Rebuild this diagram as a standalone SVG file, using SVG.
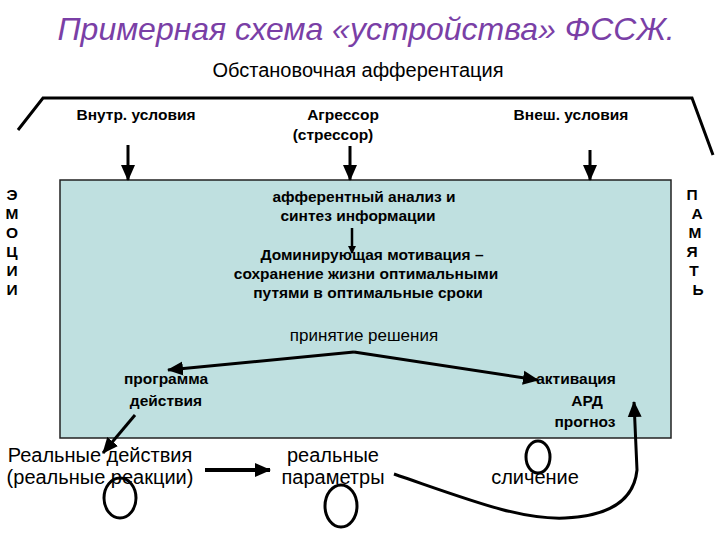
<svg xmlns="http://www.w3.org/2000/svg" width="720" height="540" viewBox="0 0 720 540">
<defs>
<marker id="ah" markerWidth="8" markerHeight="8" refX="7" refY="4" orient="auto" markerUnits="userSpaceOnUse" viewBox="0 0 8 8"><path d="M0,0 L8,4 L0,8 z" fill="#000"/></marker>
<marker id="big" markerWidth="16" markerHeight="16" refX="15" refY="8" orient="auto" markerUnits="userSpaceOnUse" viewBox="0 0 16 16"><path d="M0,1 L16,8 L0,15 z" fill="#000"/></marker>
</defs>
<style>
text{font-family:"Liberation Sans",Arial,sans-serif;fill:#000}
.b{font-weight:bold;font-size:15.5px}
.n{font-size:20px}
.ln{stroke:#000;stroke-width:3;fill:none}
.c{stroke:#000;stroke-width:3;fill:none}
</style>
<rect width="720" height="540" fill="#fff"/>
<text x="366" y="40" text-anchor="middle" font-size="32" font-style="italic" style="fill:#7a3fa6">Примерная схема «устройства» ФССЖ.</text>
<text x="358" y="77" text-anchor="middle" font-size="20">Обстановочная афферентация</text>
<path class="ln" d="M18,130 L43,98 L692,98 L713,155" stroke-width="3"/>
<rect id="box" x="60" y="180" width="611" height="258" fill="#bfe0e0" stroke="#222" stroke-width="1.5"/>
<g id="top-labels">
<text class="b" x="136" y="120" text-anchor="middle">Внутр. условия</text>
<text class="b" x="343" y="120" text-anchor="middle">Агрессор</text>
<text class="b" x="333" y="140" text-anchor="middle">(стрессор)</text>
<text class="b" x="571" y="120" text-anchor="middle">Внеш. условия</text>
</g>
<g id="side">
<text class="b" font-size="17" x="12" y="200" text-anchor="middle"><tspan x="12">Э</tspan><tspan x="12" dy="19">М</tspan><tspan x="12" dy="19">О</tspan><tspan x="12" dy="19">Ц</tspan><tspan x="12" dy="19">И</tspan><tspan x="12" dy="19">И</tspan></text>
<text class="b" font-size="17" x="692" y="200" text-anchor="middle"><tspan x="692">П</tspan><tspan x="697" dy="19">А</tspan><tspan x="695" dy="19">М</tspan><tspan x="692" dy="19">Я</tspan><tspan x="694" dy="19">Т</tspan><tspan x="698" dy="19">Ь</tspan></text>
</g>
<g id="inner">
<text class="b" x="364" y="202" text-anchor="middle">афферентный анализ и</text>
<text class="b" x="358" y="221" text-anchor="middle">синтез информации</text>
<text class="b" x="372" y="260" text-anchor="middle">Доминирующая мотивация –</text>
<text class="b" x="366" y="279" text-anchor="middle">сохранение жизни оптимальными</text>
<text class="b" x="368" y="298" text-anchor="middle">путями в оптимальные сроки</text>
<text font-size="17" x="364" y="341" text-anchor="middle">принятие решения</text>
<text class="b" x="166" y="384" text-anchor="middle">программа</text>
<text class="b" x="166" y="406" text-anchor="middle">действия</text>
<text class="b" x="576" y="384" text-anchor="middle">активация</text>
<text class="b" x="587" y="406" text-anchor="middle">АРД</text>
<text class="b" x="585" y="427" text-anchor="middle">прогноз</text>
</g>
<g id="bottom">
<text class="n" x="100" y="462" text-anchor="middle">Реальные действия</text>
<text class="n" x="100" y="484" text-anchor="middle">(реальные реакции)</text>
<text class="n" x="333" y="462" text-anchor="middle">реальные</text>
<text class="n" x="333" y="484" text-anchor="middle">параметры</text>
<text class="n" x="535" y="484" text-anchor="middle">сличение</text>
<ellipse class="c" cx="120" cy="498" rx="16" ry="20"/>
<ellipse class="c" cx="341" cy="506" rx="16" ry="21"/>
<ellipse class="c" cx="538" cy="457" rx="12" ry="16"/>
</g>
<g id="connectors" stroke="#000" fill="none">
<line x1="128" y1="145" x2="128" y2="180" stroke-width="3" marker-end="url(#big)"/>
<line x1="350" y1="146" x2="350" y2="180" stroke-width="3" marker-end="url(#big)"/>
<line x1="590" y1="150" x2="590" y2="180" stroke-width="3" marker-end="url(#big)"/>
<line x1="352" y1="228" x2="352" y2="253" stroke-width="2.5" marker-end="url(#ah)"/>
<path d="M354,352 L168,370" stroke-width="3" marker-end="url(#big)"/>
<path d="M354,352 L538,380" stroke-width="3" marker-end="url(#big)"/>
<line x1="135" y1="415" x2="103" y2="453" stroke-width="3" marker-end="url(#big)"/>
<line x1="205" y1="470" x2="270" y2="470" stroke-width="4" marker-end="url(#big)"/>
<path d="M394,474 C470,500 520,520 565,518 C610,516 634,500 637,470 L634,402" stroke-width="3" marker-end="url(#big)"/>
</g>
</svg>
